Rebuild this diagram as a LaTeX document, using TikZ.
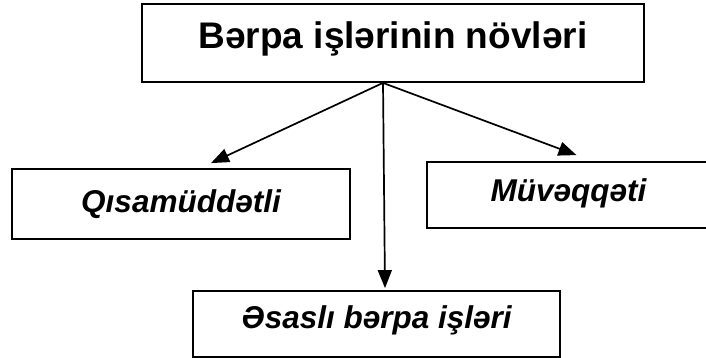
\documentclass[tikz,border=0pt]{standalone}
\usepackage{fontspec}
\setmainfont{Liberation Sans}
\usetikzlibrary{arrows.meta}

\begin{document}
\begin{tikzpicture}[x=1pt,y=-1pt,
    box/.style={draw, line width=1.8pt, inner sep=0pt},
    big/.style={font=\fontsize{37}{44}\selectfont\bfseries},
    small/.style={font=\fontsize{31.5}{38}\selectfont\bfseries\itshape},
    link/.style={line width=1.7pt, -{Triangle[length=18pt,width=14pt]}}]
    \useasboundingbox (0,0) rectangle (706,358);
    \clip (0,0) rectangle (706,358);

    \node[box, big, text depth=15pt, minimum width=502pt, minimum height=78pt] (novler) at (393,43) {Bərpa işlərinin növləri};
    \node[box, small, minimum width=338pt, minimum height=70pt] (qisa) at (181,204) {Qısamüddətli};
    \node[box, small, text depth=10pt, minimum width=283pt, minimum height=66pt] (muveqqeti) at (568.5,195) {Müvəqqəti};
    \node[box, small, text depth=13pt, minimum width=367pt, minimum height=66pt] (esasli) at (376.5,324) {Əsaslı bərpa işləri};

    \coordinate (kok) at ([xshift=-10pt]novler.south);

    \draw[link] (kok) -- ([xshift=30pt,yshift=5pt]qisa.north);
    \draw[link] (kok) -- ([xshift=8pt,yshift=6pt]muveqqeti.north);
    \draw[link] (kok) -- ([xshift=8.5pt,yshift=2pt]esasli.north);
\end{tikzpicture}
\end{document}
